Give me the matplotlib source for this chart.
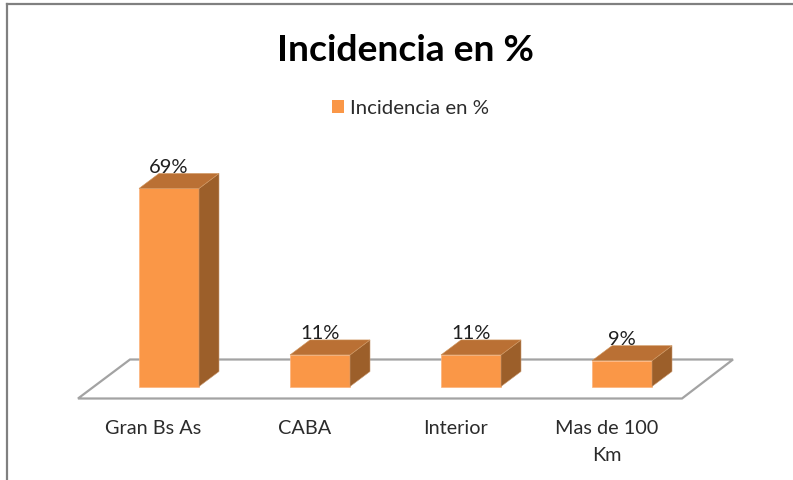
import matplotlib
matplotlib.use('Agg')
import matplotlib.pyplot as plt
from matplotlib.patches import Polygon, Rectangle
from matplotlib.lines import Line2D

# Data
categories = ['Gran Bs As', 'CABA', 'Interior', 'Mas de 100\nKm']
values = [69, 11, 11, 9]
labels = ['69%', '11%', '11%', '9%']
title = 'Incidencia en %'

plt.rcParams['font.family'] = ['Lato', 'DejaVu Sans']

W, H = 793, 481
# pixel position of category 0 / value 0, and the pixel scale
x0, y0 = 169, 387.5
px_x, px_y = 151, 2.87
bar_w = 60 / px_x
dx = 20 / px_x
dy = 15 / px_y

fig = plt.figure(figsize=(W / 100, H / 100), dpi=100, facecolor='white')
ax = fig.add_axes([0, 0, 1, 1])
ax.set_xlim(-x0 / px_x, (W - x0) / px_x)
ax.set_ylim((y0 - H) / px_y, y0 / px_y)
ax.axis('off')

# floor
fx = lambda p: (p - x0) / px_x
fy = lambda p: (y0 - p) / px_y
floor = [(fx(78), fy(399.5)), (fx(682), fy(399.5)), (fx(733), fy(360.5)), (fx(130), fy(360.5))]
ax.add_patch(Polygon(floor, closed=True, facecolor='white', edgecolor='#a3a3a3', lw=1.6, zorder=1))

# bars
for i, v in enumerate(values):
    l = i - bar_w / 2
    r = i + bar_w / 2
    ax.add_patch(Rectangle((l, 0), bar_w, v, facecolor='#fa9747', edgecolor='#fdb27a', lw=0.5, zorder=3))
    ax.add_patch(Polygon([(r, 0), (r + dx, dy), (r + dx, v + dy), (r, v)], closed=True,
                         facecolor='#9c5f2a', edgecolor='#c99a72', lw=0.4, zorder=3))
    ax.add_patch(Polygon([(l, v), (r, v), (r + dx, v + dy), (l + dx, v + dy)], closed=True,
                         facecolor='#ba7034', edgecolor='#d0975f', lw=0.4, zorder=3))
    ax.text(i, v + 22 / px_y, labels[i], ha='center', va='center', fontsize=14.5, color='#1f1f1f', zorder=4)
    # category label, one text per line to hold the line gap
    for n, line in enumerate(categories[i].split('\n')):
        ax.text(i - 15.5 / px_x, fy(428.5 + 27 * n), line, ha='center', va='center', fontsize=14.3,
                color='#2b2b2b', zorder=4)

# title + legend
ax.text(fx(405.5), fy(50), title, ha='center', va='center', fontsize=26.8, fontweight='bold', color='black')
ax.add_patch(Rectangle((fx(332), fy(114)), 12 / px_x, 13 / px_y, facecolor='#fa9747', edgecolor='none'))
ax.text(fx(350.5), fy(108), title, ha='left', va='center', fontsize=14.7, color='#2b2b2b')

# outer frame of the screenshot, top and left only
fig.add_artist(Line2D([7 / W, 7 / W], [0, 1 - 5 / H], color='#808080', lw=1.6))
fig.add_artist(Line2D([7 / W, 1], [1 - 5 / H, 1 - 5 / H], color='#808080', lw=1.6))

fig.savefig('out.png', dpi=100)
